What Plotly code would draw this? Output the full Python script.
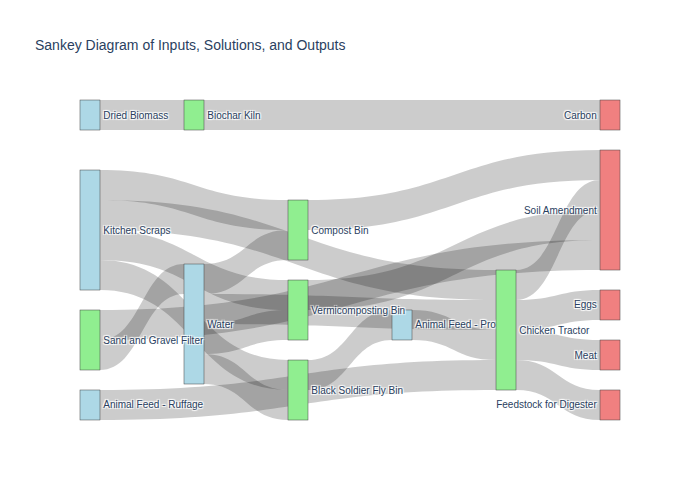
import plotly.graph_objects as go

labels = [
    "Dried Biomass", "Kitchen Scraps", "Water", "Animal Feed - Ruffage", "Animal Feed - Protein",
    "Biochar Kiln", "Sand and Gravel Filter", "Compost Bin", "Vermicomposting Bin",
    "Black Soldier Fly Bin", "Chicken Tractor",
    "Carbon", "Soil Amendment", "Eggs", "Meat", "Feedstock for Digester",
]
node_colors = (["lightblue"] * 5) + (["lightgreen"] * 6) + (["lightcoral"] * 5)

# normalized node centre positions (layout only)
node_x = [0.0185, 0.0185, 0.2111, 0.0185, 0.5963,
          0.2111, 0.0185, 0.4037, 0.4037, 0.4037, 0.7889,
          0.9815, 0.9815, 0.9815, 0.9815, 0.9815]
node_y = [0.0469, 0.4063, 0.7000, 0.9531, 0.7031,
          0.0469, 0.7500, 0.4063, 0.6563, 0.9063, 0.7188,
          0.0469, 0.3438, 0.6406, 0.7969, 0.9531]

link_sources = [
    "Dried Biomass", "Biochar Kiln",
    "Kitchen Scraps", "Kitchen Scraps", "Kitchen Scraps", "Kitchen Scraps",
    "Water", "Water", "Water", "Water",
    "Sand and Gravel Filter", "Sand and Gravel Filter",
    "Compost Bin", "Vermicomposting Bin", "Black Soldier Fly Bin",
    "Animal Feed - Protein", "Animal Feed - Ruffage",
    "Chicken Tractor", "Chicken Tractor", "Chicken Tractor", "Chicken Tractor",
]
link_targets = [
    "Biochar Kiln", "Carbon",
    "Compost Bin", "Vermicomposting Bin", "Black Soldier Fly Bin", "Chicken Tractor",
    "Compost Bin", "Vermicomposting Bin", "Black Soldier Fly Bin", "Chicken Tractor",
    "Water", "Soil Amendment",
    "Soil Amendment", "Soil Amendment", "Animal Feed - Protein",
    "Chicken Tractor", "Chicken Tractor",
    "Eggs", "Meat", "Soil Amendment", "Feedstock for Digester",
]
link_values = [1] * len(link_sources)

idx = {name: i for i, name in enumerate(labels)}

fig = go.Figure(go.Sankey(
    arrangement="fixed",
    node=dict(label=labels, color=node_colors, x=node_x, y=node_y),
    link=dict(
        source=[idx[s] for s in link_sources],
        target=[idx[t] for t in link_targets],
        value=link_values,
    ),
))
fig.update_layout(
    title_text="Sankey Diagram of Inputs, Solutions, and Outputs",
    font=dict(family="Arial", size=10),
    width=700, height=500,
)
fig.write_html("out.html", config={"displayModeBar": False},
               post_script="document.body.style.margin='0';")
